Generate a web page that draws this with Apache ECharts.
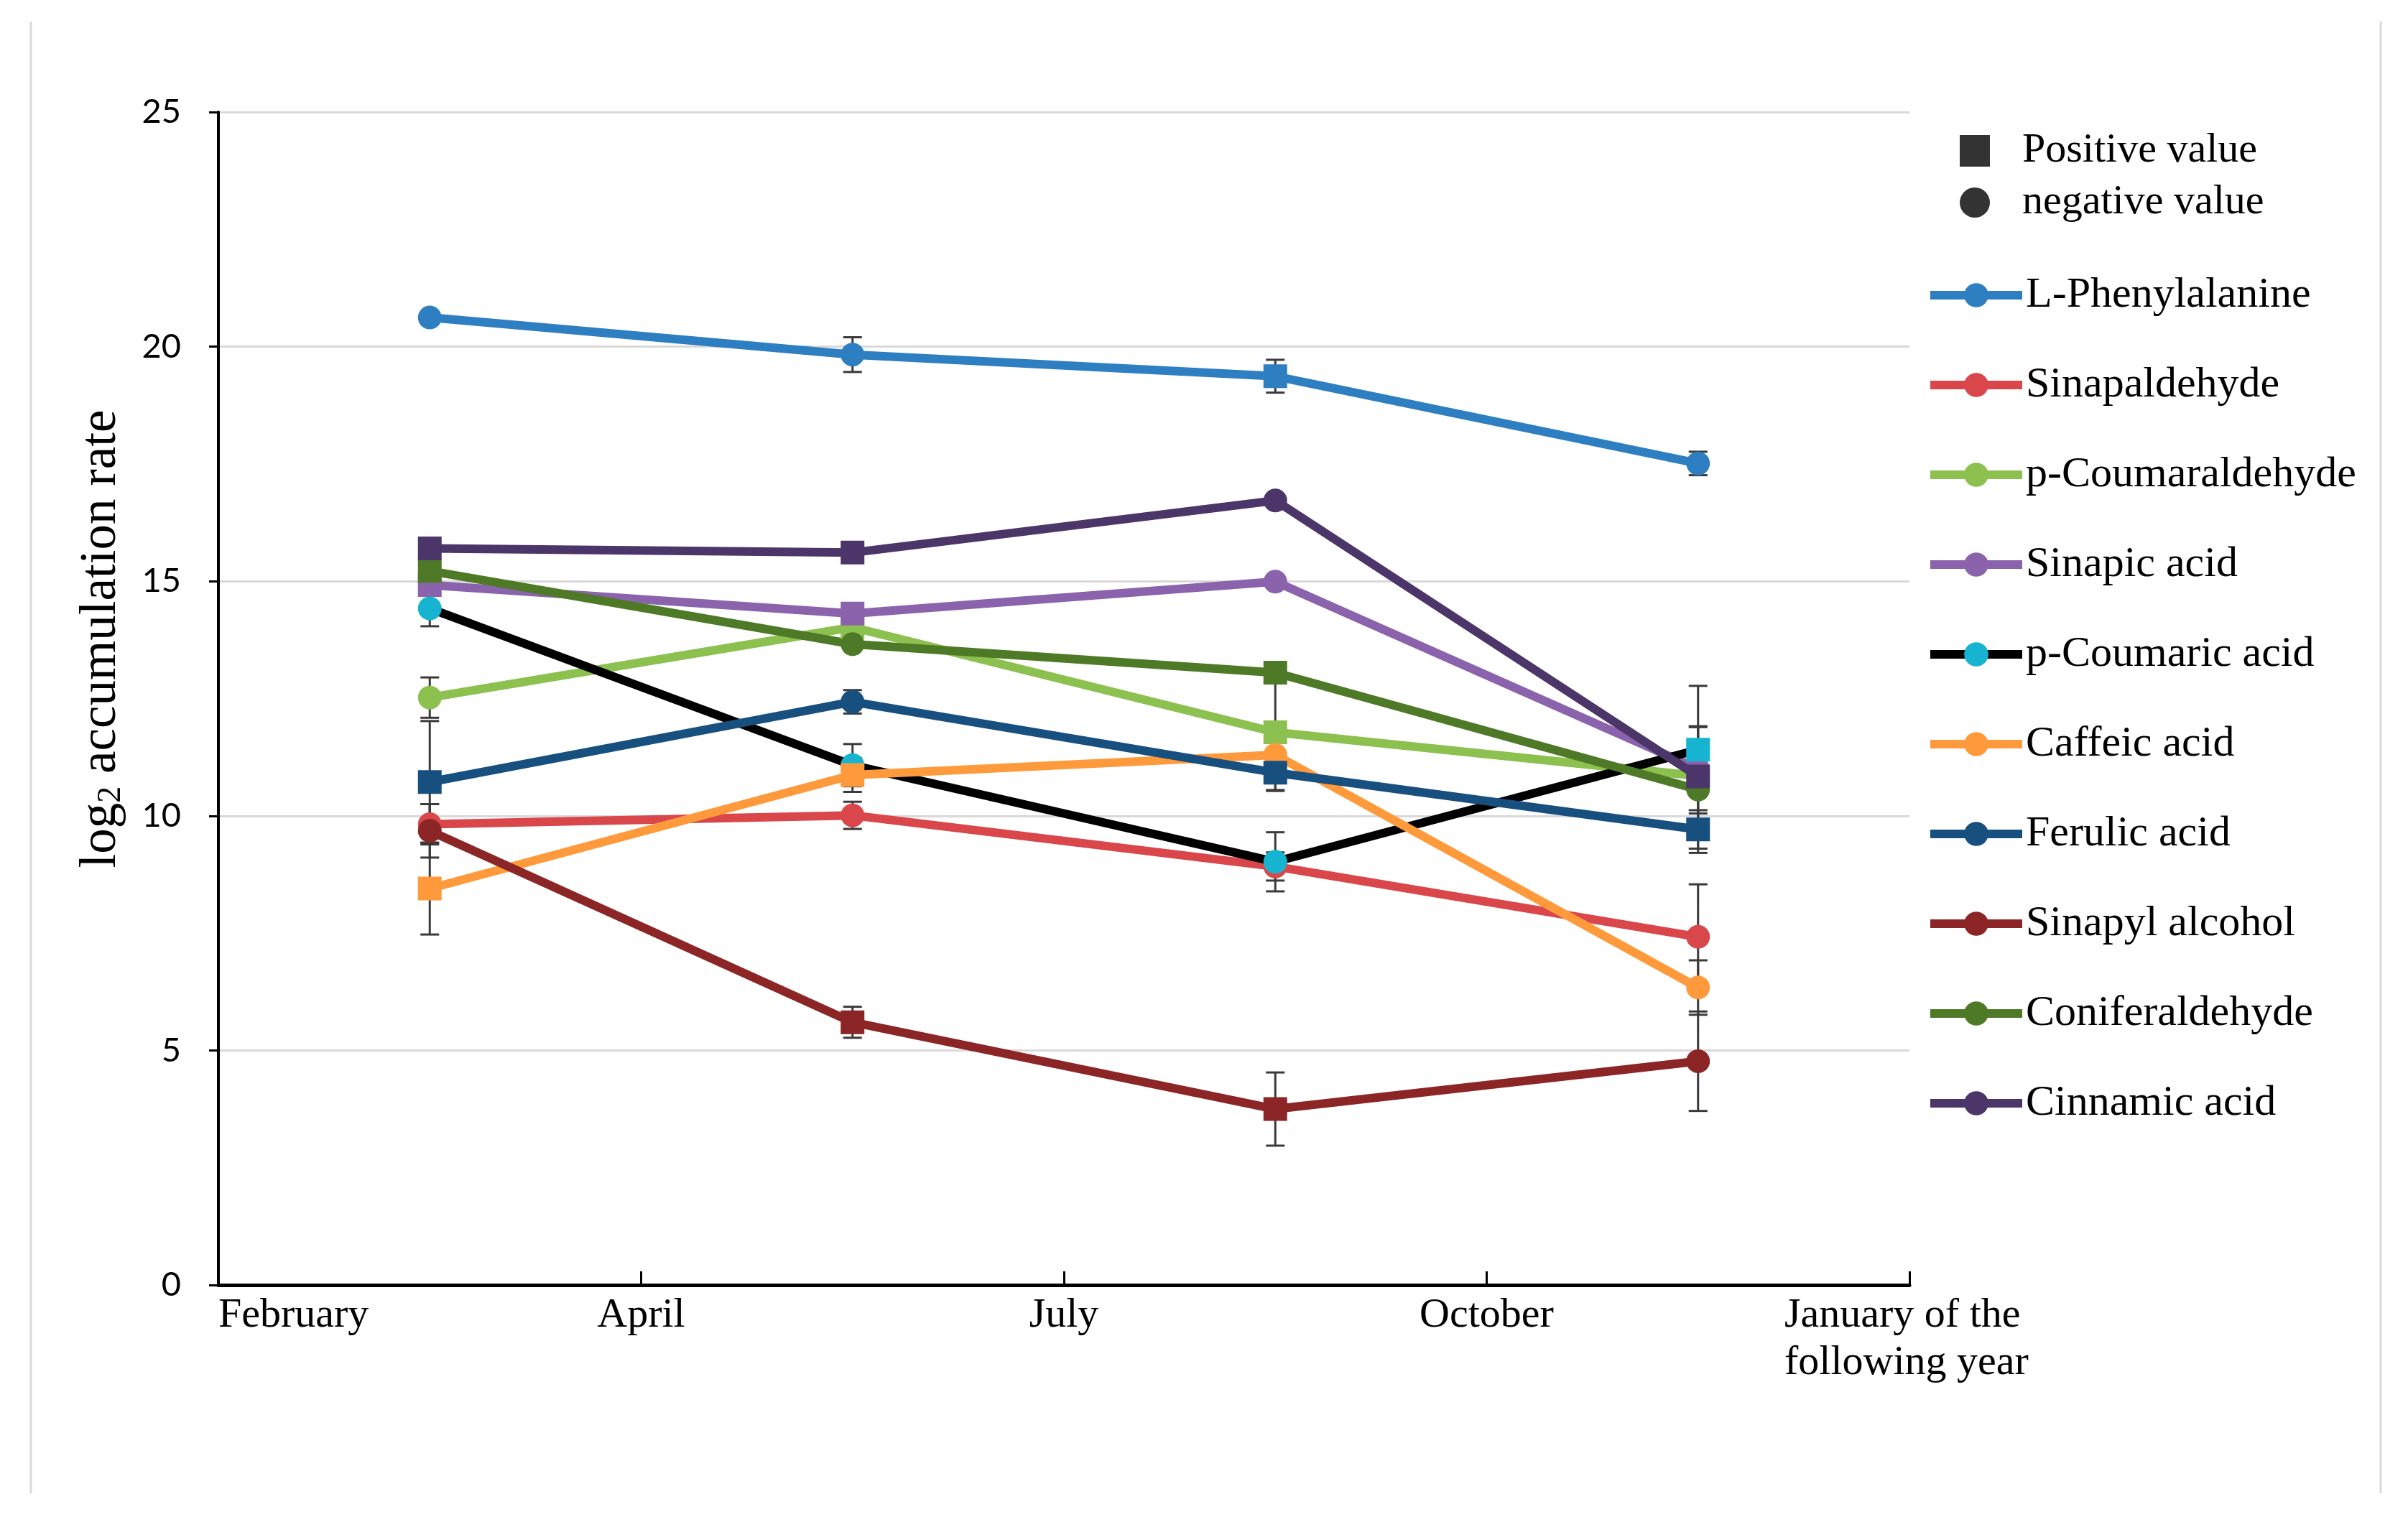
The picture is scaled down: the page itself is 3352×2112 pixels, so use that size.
<!DOCTYPE html>
<html>
<head>
    <meta charset="utf-8">
    <title>log2 accumulation rate</title>
    <script src="https://cdn.jsdelivr.net/npm/echarts@6/dist/echarts.min.js"></script>
    <style>
      html, body { margin: 0; padding: 0; background: #fff; }
      #main { width: 3352px; height: 2112px; }
    </style>
</head>
<body>
    <div id="main"></div>
    <script type="text/javascript">
      // sampling months (ticks) and where the points sit between them
      var monthLabels = ['February', 'April', 'July', 'October', 'January of the\nfollowing year'];
      var xPos = [0.5, 1.5, 2.5, 3.5];

      // values, error bars and sign (1 = positive value / square, -1 = negative value / circle)
      var lPhenylalanine     = [20.62, 19.83, 19.37, 17.51];
      var lPhenylalanineErr  = [0, 0.37, 0.35, 0.25];
      var lPhenylalanineSign = [-1, -1, 1, -1];

      var sinapaldehyde     = [9.82, 10.01, 8.92, 7.42];
      var sinapaldehydeErr  = [0.43, 0.29, 0.3, 1.12];
      var sinapaldehydeSign = [-1, -1, -1, -1];

      var pCoumaraldehyde     = [12.52, 14.02, 11.78, 10.85];
      var pCoumaraldehydeErr  = [0.43, 0.1, 1.25, 0.35];
      var pCoumaraldehydeSign = [-1, 1, 1, -1];

      var sinapicAcid     = [14.92, 14.31, 14.99, 11.0];
      var sinapicAcidErr  = [0.1, 0.1, 0.08, 0.5];
      var sinapicAcidSign = [1, 1, -1, -1];

      var pCoumaricAcid     = [14.42, 11.08, 9.02, 11.41];
      var pCoumaricAcidErr  = [0.38, 0.45, 0.63, 1.36];
      var pCoumaricAcidSign = [-1, -1, -1, 1];

      var caffeicAcid     = [8.45, 10.87, 11.3, 6.34];
      var caffeicAcidErr  = [0.98, 0.36, 0.1, 0.58];
      var caffeicAcidSign = [1, 1, -1, -1];

      var ferulicAcid     = [10.72, 12.43, 10.92, 9.71];
      var ferulicAcidErr  = [1.3, 0.25, 0.37, 0.41];
      var ferulicAcidSign = [1, -1, 1, 1];

      var sinapylAlcohol     = [9.68, 5.6, 3.75, 4.77];
      var sinapylAlcoholErr  = [0.57, 0.33, 0.78, 1.06];
      var sinapylAlcoholSign = [-1, 1, 1, -1];

      var coniferaldehyde     = [15.22, 13.66, 13.05, 10.56];
      var coniferaldehydeErr  = [0.1, 0.1, 0.1, 1.35];
      var coniferaldehydeSign = [1, -1, 1, -1];

      var cinnamicAcid     = [15.70, 15.61, 16.72, 10.84];
      var cinnamicAcidErr  = [0.1, 0.1, 0.1, 1.05];
      var cinnamicAcidSign = [1, 1, -1, 1];

      var compounds = [
        { name: 'L-Phenylalanine', values: lPhenylalanine, err: lPhenylalanineErr, sign: lPhenylalanineSign, line: '#2E7FC2', mark: '#2E7FC2' },
        { name: 'Sinapaldehyde', values: sinapaldehyde, err: sinapaldehydeErr, sign: sinapaldehydeSign, line: '#D9474B', mark: '#D9474B' },
        { name: 'p-Coumaraldehyde', values: pCoumaraldehyde, err: pCoumaraldehydeErr, sign: pCoumaraldehydeSign, line: '#8CC04F', mark: '#8CC04F' },
        { name: 'Sinapic acid', values: sinapicAcid, err: sinapicAcidErr, sign: sinapicAcidSign, line: '#8B63AD', mark: '#8B63AD' },
        { name: 'p-Coumaric acid', values: pCoumaricAcid, err: pCoumaricAcidErr, sign: pCoumaricAcidSign, line: '#000000', mark: '#16B4D1' },
        { name: 'Caffeic acid', values: caffeicAcid, err: caffeicAcidErr, sign: caffeicAcidSign, line: '#FF9A3C', mark: '#FF9A3C' },
        { name: 'Ferulic acid', values: ferulicAcid, err: ferulicAcidErr, sign: ferulicAcidSign, line: '#174F7F', mark: '#174F7F' },
        { name: 'Sinapyl alcohol', values: sinapylAlcohol, err: sinapylAlcoholErr, sign: sinapylAlcoholSign, line: '#8C2626', mark: '#8C2626' },
        { name: 'Coniferaldehyde', values: coniferaldehyde, err: coniferaldehydeErr, sign: coniferaldehydeSign, line: '#4E7A27', mark: '#4E7A27' },
        { name: 'Cinnamic acid', values: cinnamicAcid, err: cinnamicAcidErr, sign: cinnamicAcidSign, line: '#4C3568', mark: '#4C3568' }
      ];

      var serif = 'Liberation Serif';

      // error bars: one flat list of [x, y, err]
      var errData = [];
      compounds.forEach(function (c) {
        c.values.forEach(function (v, i) {
          if (c.err[i] > 0) errData.push([xPos[i], v, c.err[i]]);
        });
      });

      var series = [];
      series.push({
        type: 'custom',
        z: 1,
        silent: true,
        data: errData,
        encode: { x: 0, y: 1 },
        renderItem: function (params, api) {
          var x = api.value(0), y = api.value(1), e = api.value(2);
          var top = api.coord([x, y + e]);
          var bot = api.coord([x, y - e]);
          var st = { stroke: '#3A3A3A', lineWidth: 3 };
          return {
            type: 'group',
            children: [
              { type: 'line', shape: { x1: top[0], y1: top[1], x2: bot[0], y2: bot[1] }, style: st },
              { type: 'line', shape: { x1: top[0] - 13, y1: top[1], x2: top[0] + 13, y2: top[1] }, style: st },
              { type: 'line', shape: { x1: bot[0] - 13, y1: bot[1], x2: bot[0] + 13, y2: bot[1] }, style: st }
            ]
          };
        }
      });

      compounds.forEach(function (c) {
        series.push({
          name: c.name,
          type: 'line',
          z: 2,
          symbol: 'circle',
          symbolSize: 33,
          showAllSymbol: true,
          lineStyle: { color: c.line, width: 12 },
          itemStyle: { color: c.mark },
          emphasis: { disabled: true },
          data: c.values.map(function (v, i) {
            return { value: [xPos[i], v], symbol: c.sign[i] > 0 ? 'rect' : 'circle' };
          })
        });
      });

      // dummy series for the shape key
      series.push({ name: 'Positive value', type: 'scatter', symbol: 'rect', itemStyle: { color: '#000' }, data: [] });
      series.push({ name: 'negative value', type: 'scatter', symbol: 'circle', itemStyle: { color: '#000' }, data: [] });

      var echart = echarts.init(document.getElementById('main'));
      var option = {
        animation: false,
        backgroundColor: '#fff',
        grid: { left: 304, right: 694, top: 156, bottom: 323 },
        xAxis: {
          type: 'value', min: 0, max: 4, interval: 1,
          axisLine: { show: true, lineStyle: { color: '#000', width: 5 } },
          axisTick: { show: true, inside: true, length: 19, lineStyle: { color: '#000', width: 3 } },
          splitLine: { show: false },
          axisLabel: {
            margin: 10,
            showMinLabel: true,
            showMaxLabel: true,
            alignMinLabel: 'left',
            fontFamily: serif, fontSize: 58, lineHeight: 66, color: '#000',
            formatter: function (v) {
              var t = monthLabels[Math.round(v)] || '';
              if (t.indexOf('\n') >= 0) {
                return t.split('\n').map(function (s) { return '{j|' + s + '}'; }).join('\n');
              }
              return t;
            },
            rich: {
              j: { width: 348, align: 'left', fontFamily: serif, fontSize: 58, lineHeight: 66, color: '#000' }
            }
          }
        },
        yAxis: {
          type: 'value', min: 0, max: 25, interval: 5,
          axisLine: { show: true, lineStyle: { color: '#000', width: 4 } },
          axisTick: { show: true, length: 13, lineStyle: { color: '#000', width: 3 } },
          splitLine: { lineStyle: { color: '#D9D9D9', width: 3 } },
          axisLabel: { margin: 52, fontFamily: 'Lato', fontSize: 47, color: '#000' },
          name: '{a|log}{s|2}{a| accumulation rate}',
          nameLocation: 'middle',
          nameGap: 122,
          nameTextStyle: {
            padding: [0, 0, 0, 166],
            rich: {
              a: { fontFamily: serif, fontSize: 71, lineHeight: 82, color: '#000' },
              s: { fontFamily: serif, fontSize: 46, lineHeight: 82, color: '#000', padding: [28, 0, 0, 0] }
            }
          }
        },
        legend: [
          {
            orient: 'vertical',
            left: 2723, top: 175,
            itemWidth: 42, itemHeight: 44, itemGap: 12,
            selectedMode: false,
            textStyle: { fontFamily: serif, fontSize: 58, lineHeight: 60, color: '#000', padding: [0, 0, 0, 40] },
            data: [
              { name: 'Positive value', icon: 'rect' },
              { name: 'negative value', icon: 'circle' }
            ]
          },
          {
            orient: 'vertical',
            left: 2676, top: 376,
            itemWidth: 128, itemHeight: 42, itemGap: 65,
            selectedMode: false,
            lineStyle: { width: 12 },
            textStyle: { fontFamily: serif, fontSize: 60, lineHeight: 60, color: '#000' },
            data: compounds.map(function (c) { return c.name; })
          }
        ],
        graphic: [
          { type: 'line', shape: { x1: 43, y1: 30, x2: 43, y2: 2079 }, style: { stroke: '#D9D9D9', lineWidth: 3 }, silent: true },
          { type: 'line', shape: { x1: 3314, y1: 30, x2: 3314, y2: 2079 }, style: { stroke: '#D9D9D9', lineWidth: 3 }, silent: true }
        ],
        series: series
      };
      echart.setOption(option);
    </script>
</body>
</html>
